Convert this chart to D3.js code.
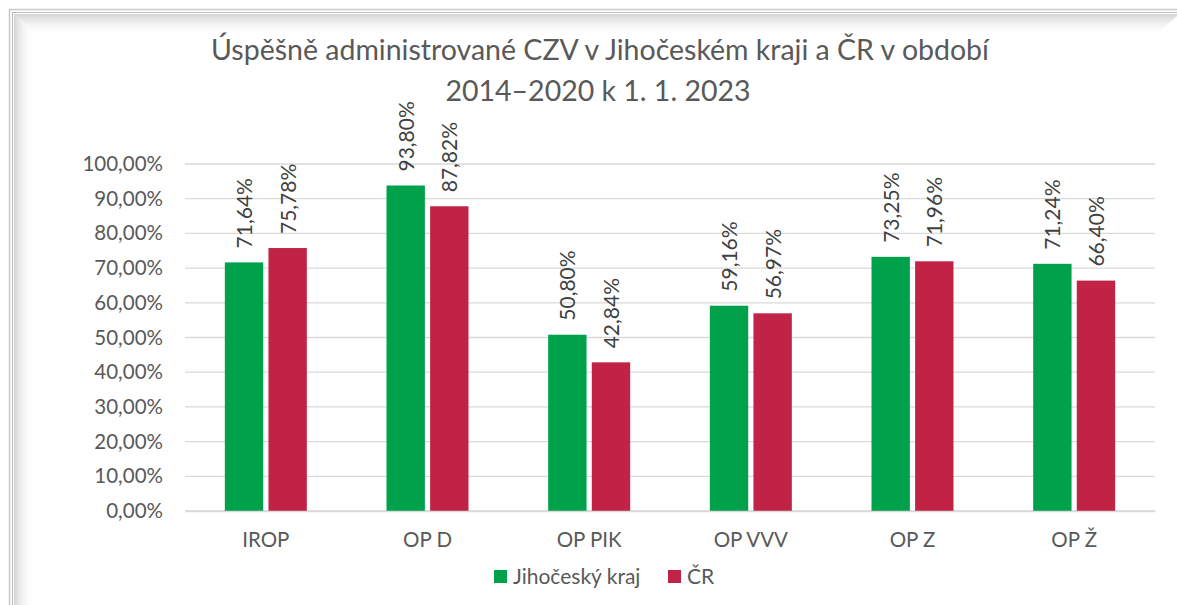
<html lang="cs">
<head>
<meta charset="UTF-8">
<title>CZV Jihočeský kraj</title>
<style>
  body { margin: 0; background: #fff; }
  svg { display: block; font-family: Lato, "Open Sans", sans-serif; }
</style>
</head>
<body>
<svg id="chart" width="1177" height="605"></svg>
<script src="https://d3js.org/d3.v7.min.js"></script>
<script>
// data
const categories = ["IROP", "OP D", "OP PIK", "OP VVV", "OP Z", "OP Ž"];
const seriesNames = ["Jihočeský kraj", "ČR"];
const jihocesky = [71.64, 93.80, 50.80, 59.16, 73.25, 71.24];
const cr = [75.78, 87.82, 42.84, 56.97, 71.96, 66.40];
const yTicks = [0, 10, 20, 30, 40, 50, 60, 70, 80, 90, 100];
const colors = ["#00A14B", "#C12346"];

const svg = d3.select("#chart");

// frame with soft shadow like the office picture border
const defs = svg.append("defs");
const gTop = defs.append("linearGradient").attr("id", "shTop").attr("x1", 0).attr("y1", 0).attr("x2", 0).attr("y2", 1);
gTop.append("stop").attr("offset", 0).attr("stop-color", "#d4d4d4");
gTop.append("stop").attr("offset", 1).attr("stop-color", "#fff").attr("stop-opacity", 0);
const gLeft = defs.append("linearGradient").attr("id", "shLeft").attr("x1", 0).attr("y1", 0).attr("x2", 1).attr("y2", 0);
gLeft.append("stop").attr("offset", 0).attr("stop-color", "#d4d4d4");
gLeft.append("stop").attr("offset", 1).attr("stop-color", "#fff").attr("stop-opacity", 0);

svg.append("path").attr("d", `M14,14 L1177,14 L1177,16 L1155,36 L34,36 Z`).attr("fill", "url(#shTop)");
svg.append("path").attr("d", `M14,14 L34,36 L34,605 L14,605 Z`).attr("fill", "url(#shLeft)");
svg.append("path").attr("d", `M9.5,605 V9.5 H1177`).attr("fill", "none").attr("stroke", "#c8c8c8").attr("stroke-width", 1.5);
svg.append("path").attr("d", `M12.5,605 V12.5 H1177`).attr("fill", "none").attr("stroke", "#bfbfbf").attr("stroke-width", 1.2);

// title
svg.append("text").attr("x", 600).attr("y", 60).attr("text-anchor", "middle")
  .attr("font-size", 28.5).attr("fill", "#595959")
  .text("Úspěšně administrované CZV v Jihočeském kraji a ČR v období");
svg.append("text").attr("x", 598).attr("y", 101).attr("text-anchor", "middle")
  .attr("font-size", 28.5).attr("fill", "#595959")
  .text("2014–2020 k 1. 1. 2023");

// scales
const x0 = d3.scaleBand().domain(categories).range([185, 1155]);
const x1 = d3.scaleBand().domain(seriesNames).range([0, 82]).paddingInner(0.12);
const y = d3.scaleLinear().domain([0, 100]).range([511, 164]);

// gridlines
svg.append("g").selectAll("line").data(yTicks).join("line")
  .attr("x1", 185).attr("x2", 1155)
  .attr("y1", d => y(d)).attr("y2", d => y(d))
  .attr("stroke", "#d9d9d9").attr("stroke-width", 1.3);

// y axis
const fmt = v => v.toFixed(2).replace(".", ",") + "%";
const yAxis = svg.append("g").attr("transform", "translate(185,0)")
  .call(d3.axisLeft(y).tickValues(yTicks).tickSize(0).tickPadding(22).tickFormat(fmt));
yAxis.select(".domain").remove();
yAxis.selectAll("text").attr("font-size", 20.5).attr("fill", "#595959").attr("font-family", "Lato, sans-serif");

// bars
const rows = categories.map((c, i) => ({ cat: c, vals: [jihocesky[i], cr[i]] }));
const groups = svg.append("g").selectAll("g").data(rows).join("g")
  .attr("transform", d => `translate(${x0(d.cat) + (x0.bandwidth() - 82) / 2},0)`);
groups.selectAll("rect").data(d => d.vals.map((v, j) => ({ s: seriesNames[j], v, j }))).join("rect")
  .attr("x", d => x1(d.s)).attr("width", x1.bandwidth())
  .attr("y", d => y(d.v)).attr("height", d => y(0) - y(d.v))
  .attr("fill", d => colors[d.j]);

// rotated value labels
groups.selectAll("text").data(d => d.vals.map((v, j) => ({ s: seriesNames[j], v, j }))).join("text")
  .attr("transform", d => `translate(${x1(d.s) + x1.bandwidth() / 2 + 8},${y(d.v) - 14}) rotate(-90)`)
  .attr("font-size", 21).attr("fill", "#404040")
  .text(d => fmt(d.v));

// category axis
const xAxis = svg.append("g").attr("transform", `translate(0,${y(0)})`)
  .call(d3.axisBottom(x0).tickSize(0).tickPadding(21));
xAxis.select(".domain").attr("stroke", "#d9d9d9").attr("stroke-width", 1.3);
xAxis.selectAll("text").attr("font-size", 20.5).attr("fill", "#595959").attr("font-family", "Lato, sans-serif");

// legend
const legend = svg.append("g");
const legItems = [{ name: seriesNames[0], x: 494 }, { name: seriesNames[1], x: 668 }];
legItems.forEach((it, i) => {
  legend.append("rect").attr("x", it.x).attr("y", 570).attr("width", 13).attr("height", 13).attr("fill", colors[i]);
  legend.append("text").attr("x", it.x + 19).attr("y", 584).attr("font-size", 21).attr("fill", "#595959").text(it.name);
});
</script>
</body>
</html>
